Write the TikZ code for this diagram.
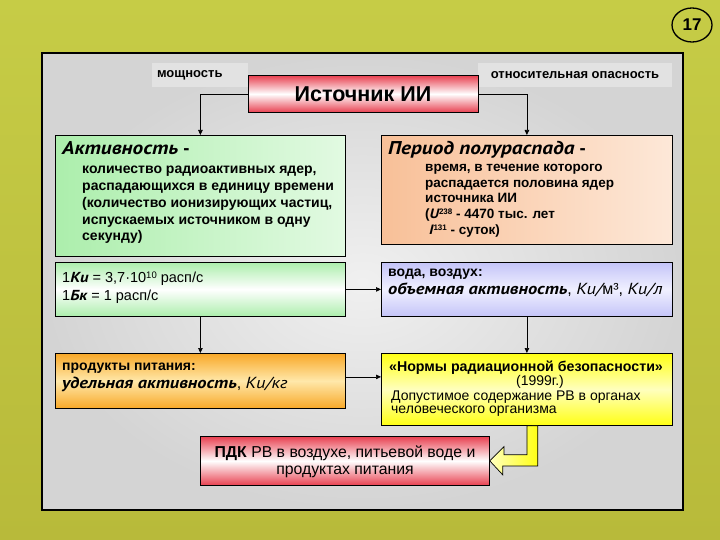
\documentclass[tikz,border=0pt]{standalone}
\usepackage{fontspec}
\setmainfont{Liberation Sans}
\newfontfamily\ptsans[FakeStretch=1.15]{PT Sans}
\usetikzlibrary{arrows.meta,calc,shapes.geometric}
\newcommand{\ptbi}[1]{{\ptsans\bfseries\itshape #1}}
\newcommand{\ptit}[1]{{\ptsans\itshape #1}}
\newcommand{\fsz}[2]{\fontsize{#1}{#2}\selectfont}
\definecolor{bgtop}{RGB}{198,204,70}
\definecolor{bgbot}{RGB}{184,186,58}
\definecolor{panin}{RGB}{240,240,240}
\definecolor{panout}{RGB}{212,212,212}
\definecolor{rred}{RGB}{232,64,80}
\definecolor{gr1}{RGB}{172,238,172}
\definecolor{gr2}{RGB}{226,250,226}
\definecolor{pe1}{RGB}{248,192,152}
\definecolor{pe2}{RGB}{253,232,216}
\definecolor{bl1}{RGB}{196,196,248}
\definecolor{bl2}{RGB}{240,240,255}
\definecolor{or1}{RGB}{248,168,40}
\definecolor{or2}{RGB}{255,232,170}
\definecolor{ye1}{RGB}{255,255,20}
\definecolor{ye2}{RGB}{255,255,190}
\definecolor{lab}{RGB}{226,226,226}
\begin{document}
\begin{tikzpicture}[x=1pt,y=-1pt,
  box/.style={draw=black, line width=0.8pt, rectangle, anchor=north west, inner sep=0pt},
  arr/.style={-{Triangle[length=5pt,width=4.5pt]}, line width=0.7pt},
  txt/.style={anchor=base west, inner sep=0pt},
  ctxt/.style={anchor=base, inner sep=0pt},
  redbox/.style={box, top color=rred, bottom color=rred, middle color=white},
  labl/.style={fill=lab, inner sep=0pt, minimum height=24pt, font=\fsz{13}{13}\bfseries},
]
\useasboundingbox (0,0) rectangle (720,540);
\fill[top color=bgtop, bottom color=bgbot] (0,0) rectangle (720,540);
\draw[line width=1.2pt, inner color=panin, outer color=panout] (42,53) rectangle (683,510);
% page number
\node[draw=black, line width=1.3pt, ellipse, minimum width=40pt, minimum height=34pt, inner sep=0pt,
      font=\fsz{17}{17}\bfseries] (pg) at (692,25) {17};
% labels
\node[labl, minimum width=96pt, text width=86pt, align=left] (lp) at (200,75) {мощность};
\node[labl, minimum width=194pt] (lo) at (575,75) {относительная опасность};
% boxes
\node[redbox, minimum width=230pt, minimum height=37pt] (src) at (248,75) {};
\node[font=\fsz{21.5}{21.5}\bfseries] (srct) at (363,94) {Источник ИИ};
\node[box, minimum width=290pt, minimum height=121pt, left color=gr1, right color=gr2] (akt) at (55,135) {};
\node[box, minimum width=291pt, minimum height=109pt, left color=pe1, right color=pe2] (per) at (381,135) {};
\node[box, minimum width=290pt, minimum height=54pt, top color=gr1, bottom color=gr1, middle color=white] (ki) at (55,262) {};
\node[box, minimum width=291pt, minimum height=54pt, top color=bl1, bottom color=bl1, middle color=bl2] (voda) at (381,262) {};
\node[box, minimum width=290pt, minimum height=55pt, top color=or1, bottom color=or1, middle color=or2] (prod) at (55,353) {};
\node[box, minimum width=291pt, minimum height=72pt, top color=ye1, bottom color=ye1, middle color=ye2] (norm) at (381,353) {};
\node[redbox, minimum width=289pt, minimum height=49pt] (pdk) at (200,436) {};
% connectors
\draw[arr] (src.west) -| (akt.north);
\draw[arr] (src.east) -| (per.north);
\draw[arr] (ki.east) -- (voda.west);
\draw[arr] (ki.south) -- (prod.north);
\draw[arr] (voda.south) -- (norm.north);
\draw[arr] ($(prod.east)+(0,-4)$) -- ($(prod.east -| norm.west)+(0,-4)$);
% block arrow
\draw[line width=0.7pt, left color=ye2, right color=ye1]
  ($(norm.south)+(0,0)$) -- ++(0,29) -- ++(-23,0) -- ++(0,-8) -- (pdk.east) -- ++(13,14) -- ++(0,-9) -- ++(35,0) -- ++(0,-40) -- cycle;
% Aktivnost text
\node[txt, font=\fsz{18.5}{18.5}] (akth) at (62,155) {\ptbi{Активность} \textbf{-}};
\node[txt, font=\fsz{14}{14}\bfseries] (akt1) at (82,174) {количество радиоактивных ядер,};
\node[txt, font=\fsz{14}{14}\bfseries] (akt2) at (82,190.7) {распадающихся в единицу времени};
\node[txt, font=\fsz{14}{14}\bfseries] (akt3) at (82,207.4) {(количество ионизирующих частиц,};
\node[txt, font=\fsz{14}{14}\bfseries] (akt4) at (82,224.1) {испускаемых источником в одну};
\node[txt, font=\fsz{14}{14}\bfseries] (akt5) at (82,240.8) {секунду)};
% Period text
\node[txt, font=\fsz{18.5}{18.5}] (perh) at (388,155) {\ptbi{Период полураспада} \textbf{-}};
\node[txt, font=\fsz{13.5}{13.5}\bfseries] (per1) at (425,172) {время, в течение которого};
\node[txt, font=\fsz{13.5}{13.5}\bfseries] (per2) at (425,187.5) {распадается половина ядер};
\node[txt, font=\fsz{13.5}{13.5}\bfseries] (per3) at (425,203) {источника ИИ};
\node[txt, font=\fsz{13.5}{13.5}\bfseries] (per4) at (425,218.5) {(\ptbi{U}{\fsz{8}{8}\raisebox{4pt}{238}} - 4470 тыс. лет};
\node[txt, font=\fsz{13.5}{13.5}\bfseries] (per5) at (429,234) {\ptbi{I}{\fsz{8}{8}\raisebox{4pt}{131}} - суток)};
% Ki box
\node[txt, font=\fsz{14.5}{14.5}] (ki1) at (62,282) {1\ptbi{Ки} = 3,7·10{\fsz{9.5}{9.5}\raisebox{4pt}{10}} расп/с};
\node[txt, font=\fsz{14.5}{14.5}] (ki2) at (62,300) {1\ptbi{Бк} = 1 расп/с};
% voda box
\node[txt, font=\fsz{14}{14}\bfseries] (vo1) at (388,276) {вода, воздух:};
\node[txt, font=\fsz{16}{16}] (vo2) at (388,294) {\ptbi{объемная активность}, \ptit{Ки/}м³, \ptit{Ки/л}};
% prod box
\node[txt, font=\fsz{14}{14}\bfseries] (pr1) at (62,370) {продукты питания:};
\node[txt, font=\fsz{16}{16}] (pr2) at (62,388) {\ptbi{удельная активность}, \ptit{Ки/кг}};
% norm box
\node[ctxt, font=\fsz{14.2}{14.2}\bfseries] (no1) at (526,371) {«Нормы радиационной безопасности»};
\node[ctxt, font=\fsz{14}{14}] (no2) at (540,385) {(1999г.)};
\node[txt, font=\fsz{14}{14}] (no3) at (391,400) {Допустимое содержание РВ в органах};
\node[txt, font=\fsz{14}{14}] (no4) at (391,413) {человеческого организма};
% pdk
\node[ctxt, font=\fsz{15.8}{15.8}] (pd1) at (345,457.5) {\textbf{ПДК} РВ в воздухе, питьевой воде и};
\node[ctxt, font=\fsz{15.8}{15.8}] (pd2) at (345,474) {продуктах питания};
\end{tikzpicture}
\end{document}
